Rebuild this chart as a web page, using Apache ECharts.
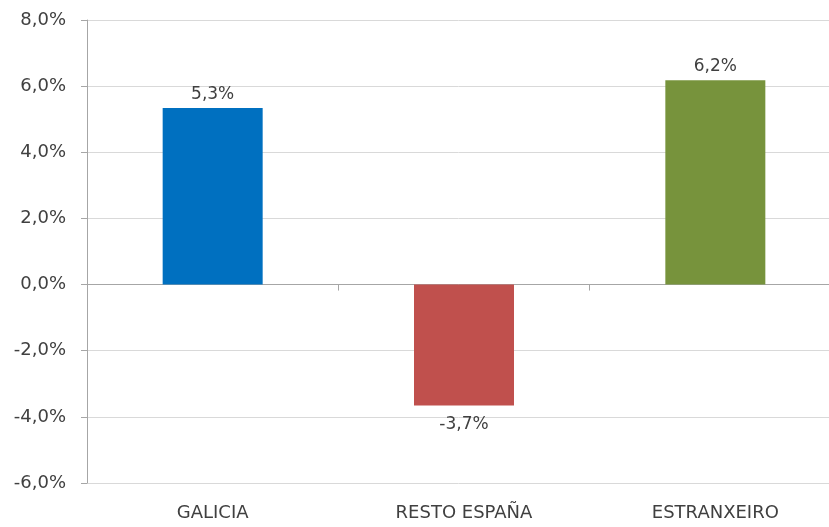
<!DOCTYPE html>
<html>
<head>
<meta charset="utf-8">
<script src="https://cdn.jsdelivr.net/npm/echarts@6/dist/echarts.min.js"></script>
<style>html,body{margin:0;padding:0;background:#fff}#c{width:829px;height:527px}</style>
</head>
<body>
<div id="c"></div>
<script>
var categories = ['GALICIA', 'RESTO ESPAÑA', 'ESTRANXEIRO'];
var values = [5.34, -3.66, 6.18];
var barColors = ['#0070C0', '#C0504D', '#77933C'];
var yTicks = [-6, -4, -2, 0, 2, 4, 6, 8];

function fmt(v, d) { return v.toFixed(d).replace('.', ',') + '%'; }

var chart = echarts.init(document.getElementById('c'), null, {renderer: 'canvas'});
var font = '"DejaVu Sans", "Liberation Sans", sans-serif';
chart.setOption({
  animation: false,
  grid: {left: 87, top: 20, width: 754, height: 463, outerBoundsMode: 'none', containLabel: false},
  xAxis: {
    type: 'category',
    data: categories,
    axisLine: {onZero: true, lineStyle: {color: '#a6a6a6', width: 1}},
    axisTick: {show: true, length: 6, lineStyle: {color: '#a6a6a6'}},
    axisLabel: {
      color: '#404040', fontFamily: font, fontSize: 18, margin: 21,
      formatter: function (v) { return v; }
    },
    splitLine: {show: false}
  },
  yAxis: {
    type: 'value',
    min: yTicks[0], max: yTicks[yTicks.length - 1], interval: 2,
    axisLine: {show: true, lineStyle: {color: '#a6a6a6'}},
    axisTick: {show: true, length: 6, lineStyle: {color: '#a6a6a6'}},
    axisLabel: {
      color: '#404040', fontFamily: font, fontSize: 18, margin: 21,
      formatter: function (v) { return fmt(v, 1); }
    },
    splitLine: {lineStyle: {color: '#d9d9d9', width: 1}}
  },
  series: [{
    type: 'bar',
    barWidth: 100,
    data: values.map(function (v, i) {
      return {
        value: v,
        itemStyle: {color: barColors[i]},
        label: {position: v < 0 ? 'bottom' : 'top', distance: v < 0 ? 10 : 5}
      };
    }),
    label: {
      show: true, color: '#404040', fontFamily: font, fontSize: 17,
      formatter: function (p) { return fmt(p.value, 1); }
    }
  }]
});
</script>
</body>
</html>
